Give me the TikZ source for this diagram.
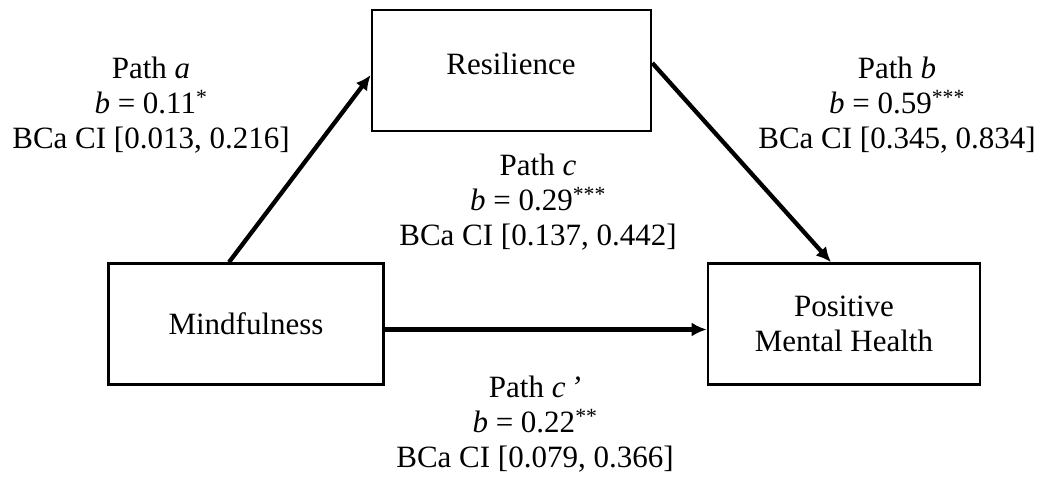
\documentclass[tikz,border=0pt]{standalone}
\usepackage{fontspec}
\setmainfont{Liberation Serif}
\usetikzlibrary{arrows.meta}
\begin{document}
\begin{tikzpicture}[x=1pt,y=-1pt,
  varbox/.style={draw,line width=2.6pt,minimum width=275pt,minimum height=121pt,inner sep=0pt,
    align=center,font=\fontsize{31}{35}\selectfont},
  pathlabel/.style={align=center,font=\fontsize{31}{35}\selectfont,inner sep=0pt},
  effect/.style={line width=4.3pt,-{Latex[length=15pt,width=14pt]}}]
\useasboundingbox (0,0) rectangle (1052,482);
% variables
\node[varbox,minimum width=279pt] (res) at (511.5,70.5) {};
\node[font=\fontsize{31}{35}\selectfont,inner sep=0pt] (restext) at (511,64) {Resilience};
\node[varbox] (mind) at (246,324) {Mindfulness};
\node[varbox,minimum width=272pt] (pmh) at (844,324) {Positive\\Mental Health};
% effects
\draw[effect] ([xshift=-17pt]mind.north) -- ([yshift=-4.5pt]res.west);
\draw[effect] ([yshift=7.5pt]res.east) -- ([xshift=-13pt]pmh.north);
\draw[effect] ([yshift=-5.5pt]mind.east) -- ([yshift=-5.5pt]pmh.west);
% coefficients
\node[pathlabel] (la) at (151,105) {Path \textit{a}\\\textit{b} = 0.11\textsuperscript{*}\\BCa CI [0.013, 0.216]};
\node[pathlabel] (lb) at (897,105) {Path \textit{b}\\\textit{b} = 0.59\textsuperscript{***}\\BCa CI [0.345, 0.834]};
\node[pathlabel] (lc) at (538,202) {Path \textit{c}\\\textit{b} = 0.29\textsuperscript{***}\\BCa CI [0.137, 0.442]};
\node[pathlabel] (lcp) at (535,424) {Path \textit{c\,’}\\\textit{b} = 0.22\textsuperscript{**}\\BCa CI [0.079, 0.366]};
\end{tikzpicture}
\end{document}
